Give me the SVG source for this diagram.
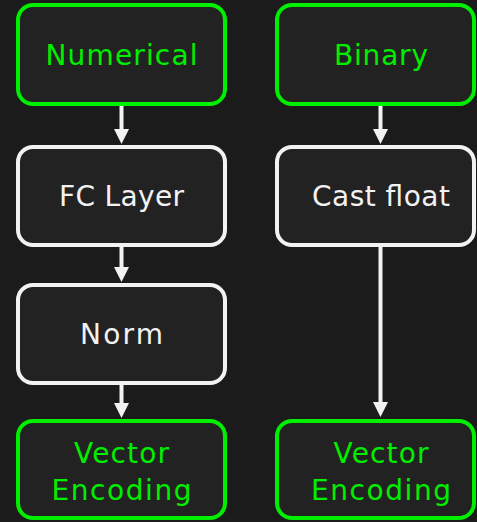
<svg xmlns="http://www.w3.org/2000/svg" width="477" height="522" viewBox="0 0 477 522">
<style>
.bg{fill:#1b1b1b}
.box{fill:#222222;stroke-width:4}
.g{stroke:#00ee00}
.w{stroke:#f2f2f2}
.t{font-family:"DejaVu Sans","Open Sans",sans-serif;font-size:28px;text-anchor:middle}
.tg{fill:#00ee00}
.tw{fill:#f2f2f2}
.ln{stroke:#f2f2f2;stroke-width:4;fill:none}
.hd{fill:#f2f2f2}
</style>
<rect class="bg" x="0" y="0" width="477" height="522"/>
<g id="numerical">
<rect class="box g" x="18" y="5" width="207" height="99" rx="15"/>
<text class="t tg" x="121.5" y="65" textLength="152" lengthAdjust="spacing">Numerical</text>
</g>
<g id="fc-layer">
<rect class="box w" x="18" y="147" width="207" height="98" rx="15"/>
<text class="t tw" x="121.5" y="205.5" textLength="125" lengthAdjust="spacing">FC Layer</text>
</g>
<g id="norm">
<rect class="box w" x="18" y="285" width="207" height="98" rx="15"/>
<text class="t tw" x="121.5" y="344" textLength="83" lengthAdjust="spacing">Norm</text>
</g>
<g id="vector-encoding-left">
<rect class="box g" x="18" y="421" width="207" height="97" rx="15"/>
<text class="t tg" x="121.5" y="462.5" textLength="95" lengthAdjust="spacing">Vector</text>
<text class="t tg" x="121.5" y="500" textLength="140" lengthAdjust="spacing">Encoding</text>
</g>
<g id="binary">
<rect class="box g" x="277" y="5" width="197" height="99" rx="15"/>
<text class="t tg" x="381" y="65" textLength="94" lengthAdjust="spacing">Binary</text>
</g>
<g id="cast-float">
<rect class="box w" x="277" y="147" width="197" height="98" rx="15"/>
<text class="t tw" x="381" y="205.5" textLength="138" lengthAdjust="spacing">Cast float</text>
</g>
<g id="vector-encoding-right">
<rect class="box g" x="277" y="421" width="197" height="97" rx="15"/>
<text class="t tg" x="381" y="462.5" textLength="95" lengthAdjust="spacing">Vector</text>
<text class="t tg" x="381" y="500" textLength="140" lengthAdjust="spacing">Encoding</text>
</g>
<g id="connectors">
<path class="ln" d="M121.5,106 V131"/>
<polygon class="hd" points="114,129 129,129 121.5,144"/>
<path class="ln" d="M121.5,247 V269"/>
<polygon class="hd" points="114,267 129,267 121.5,282"/>
<path class="ln" d="M121.5,385 V405"/>
<polygon class="hd" points="114,403 129,403 121.5,418"/>
<path class="ln" d="M380.5,106 V131"/>
<polygon class="hd" points="373,129 388,129 380.5,144"/>
<path class="ln" d="M380.5,247 V404"/>
<polygon class="hd" points="373,402 388,402 380.5,417"/>
</g>
</svg>
